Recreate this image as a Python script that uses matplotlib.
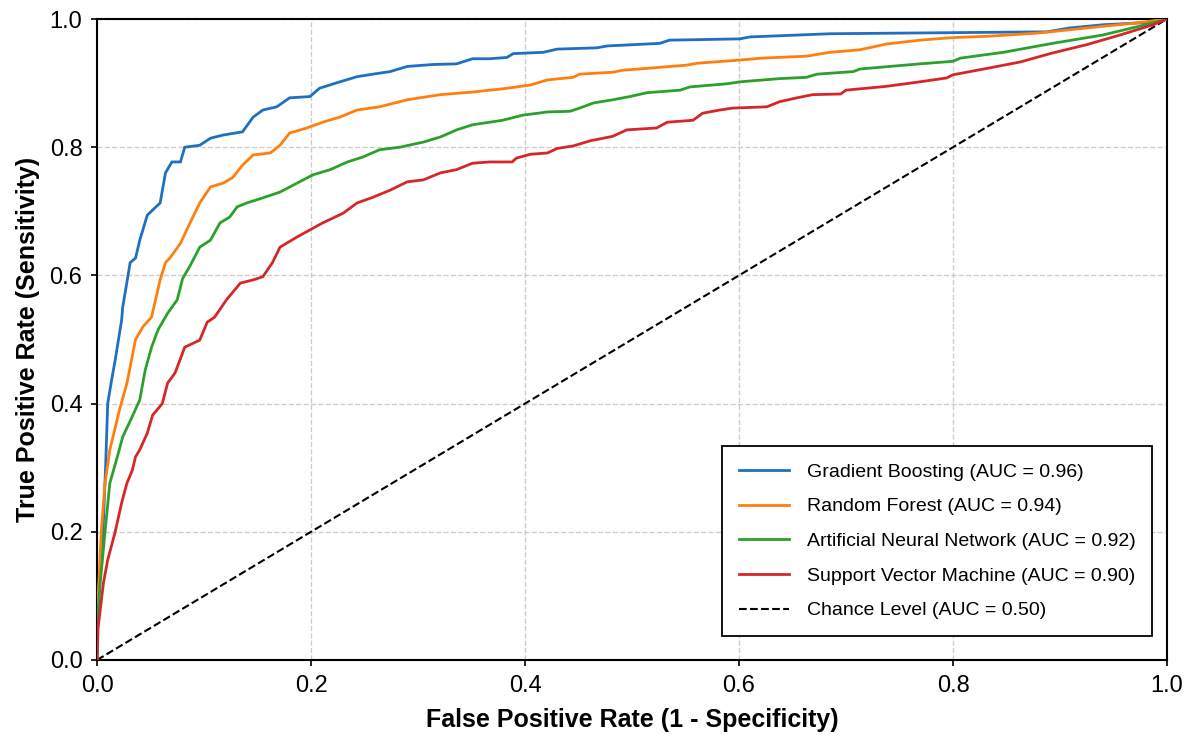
import matplotlib
matplotlib.use("Agg")
import matplotlib.pyplot as plt

plt.rcParams['font.family'] = ['Liberation Sans', 'DejaVu Sans']

labels = ["Gradient Boosting (AUC = 0.96)",
          "Random Forest (AUC = 0.94)",
          "Artificial Neural Network (AUC = 0.92)",
          "Support Vector Machine (AUC = 0.90)"]
colors = ["#1f6fc2", "#ff7f0e", "#2ca02c", "#d62728"]
chance_label = "Chance Level (AUC = 0.50)"

gb_fpr = [0.0, 0.0, 0.002, 0.004, 0.0056, 0.008, 0.010, 0.014, 0.017, 0.023, 0.024, 0.029, 0.031, 0.036,
          0.040, 0.047, 0.052, 0.059, 0.064, 0.070, 0.078, 0.082, 0.096, 0.106, 0.118, 0.136,
          0.146, 0.155, 0.168, 0.180, 0.199, 0.208, 0.227, 0.243, 0.258, 0.274, 0.290, 0.314,
          0.336, 0.351, 0.367, 0.383, 0.389, 0.417, 0.430, 0.467, 0.477, 0.526, 0.535, 0.601,
          0.610, 0.685, 0.888, 0.909, 0.940, 0.987, 1.0]
gb_tpr = [0.0, 0.08, 0.12, 0.16, 0.20, 0.30, 0.40, 0.44, 0.468, 0.53, 0.55, 0.60, 0.62, 0.627,
          0.655, 0.694, 0.702, 0.713, 0.760, 0.777, 0.777, 0.800, 0.803, 0.814, 0.819, 0.824,
          0.847, 0.858, 0.863, 0.877, 0.879, 0.892, 0.902, 0.910, 0.914, 0.918, 0.926, 0.929,
          0.930, 0.938, 0.938, 0.940, 0.946, 0.948, 0.953, 0.955, 0.958, 0.962, 0.967, 0.969,
          0.972, 0.977, 0.980, 0.986, 0.991, 0.995, 1.0]

rf_fpr = [0.0, 0.0, 0.002, 0.004, 0.0075, 0.012, 0.021, 0.028, 0.036, 0.043, 0.051, 0.059, 0.064,
          0.068, 0.078, 0.087, 0.096, 0.106, 0.118, 0.127, 0.136, 0.146, 0.162, 0.171, 0.180,
          0.196, 0.211, 0.227, 0.243, 0.264, 0.290, 0.321, 0.351, 0.367, 0.379, 0.405, 0.421,
          0.445, 0.451, 0.482, 0.491, 0.514, 0.551, 0.561, 0.601, 0.622, 0.663, 0.685, 0.713,
          0.738, 0.769, 0.800, 0.832, 0.879, 0.925, 0.972, 1.0]
rf_tpr = [0.0, 0.06, 0.13, 0.20, 0.276, 0.328, 0.390, 0.432, 0.500, 0.520, 0.535, 0.593, 0.620,
          0.627, 0.650, 0.682, 0.713, 0.738, 0.744, 0.753, 0.772, 0.788, 0.791, 0.803, 0.822,
          0.830, 0.839, 0.847, 0.858, 0.863, 0.874, 0.882, 0.886, 0.889, 0.891, 0.897, 0.905,
          0.909, 0.914, 0.917, 0.920, 0.923, 0.928, 0.931, 0.936, 0.939, 0.942, 0.948, 0.952,
          0.961, 0.967, 0.971, 0.973, 0.978, 0.986, 0.994, 1.0]

ann_fpr = [0.0, 0.0, 0.003, 0.0075, 0.012, 0.019, 0.024, 0.033, 0.040, 0.045, 0.051, 0.057, 0.066,
           0.075, 0.080, 0.087, 0.096, 0.106, 0.115, 0.124, 0.131, 0.140, 0.155, 0.171, 0.187,
           0.202, 0.218, 0.234, 0.249, 0.264, 0.283, 0.305, 0.321, 0.336, 0.351, 0.367, 0.379,
           0.398, 0.421, 0.442, 0.451, 0.464, 0.482, 0.498, 0.514, 0.545, 0.554, 0.589, 0.601,
           0.638, 0.663, 0.673, 0.707, 0.713, 0.769, 0.800, 0.807, 0.847, 0.893, 0.940, 0.987, 1.0]
ann_tpr = [0.0, 0.05, 0.12, 0.200, 0.276, 0.317, 0.348, 0.380, 0.406, 0.452, 0.488, 0.515, 0.541,
           0.562, 0.595, 0.615, 0.644, 0.655, 0.682, 0.691, 0.707, 0.713, 0.721, 0.730, 0.744,
           0.757, 0.765, 0.777, 0.785, 0.796, 0.800, 0.808, 0.816, 0.827, 0.835, 0.839, 0.842,
           0.850, 0.855, 0.856, 0.861, 0.869, 0.874, 0.879, 0.885, 0.889, 0.894, 0.899, 0.902,
           0.907, 0.909, 0.914, 0.918, 0.922, 0.930, 0.934, 0.939, 0.948, 0.962, 0.975, 0.994, 1.0]

svm_fpr = [0.0, 0.001, 0.006, 0.010, 0.017, 0.023, 0.028, 0.033, 0.036, 0.040, 0.047, 0.052, 0.061,
           0.066, 0.073, 0.082, 0.096, 0.103, 0.110, 0.121, 0.134, 0.146, 0.155, 0.164, 0.171,
           0.187, 0.199, 0.211, 0.230, 0.243, 0.258, 0.274, 0.290, 0.305, 0.321, 0.336, 0.351,
           0.367, 0.388, 0.392, 0.405, 0.421, 0.430, 0.445, 0.461, 0.482, 0.495, 0.523, 0.533,
           0.557, 0.566, 0.582, 0.594, 0.626, 0.638, 0.654, 0.669, 0.695, 0.700, 0.738, 0.769,
           0.794, 0.800, 0.832, 0.863, 0.893, 0.925, 0.956, 0.987, 1.0]
svm_tpr = [0.0, 0.05, 0.12, 0.156, 0.200, 0.245, 0.276, 0.296, 0.317, 0.328, 0.354, 0.382, 0.400,
           0.432, 0.448, 0.488, 0.499, 0.527, 0.535, 0.562, 0.588, 0.593, 0.598, 0.620, 0.644,
           0.660, 0.671, 0.682, 0.697, 0.713, 0.722, 0.733, 0.746, 0.749, 0.760, 0.765, 0.775,
           0.777, 0.777, 0.783, 0.789, 0.791, 0.798, 0.802, 0.810, 0.817, 0.827, 0.830, 0.839,
           0.842, 0.853, 0.858, 0.861, 0.863, 0.871, 0.877, 0.882, 0.883, 0.889, 0.895, 0.902,
           0.908, 0.913, 0.923, 0.933, 0.947, 0.960, 0.975, 0.991, 1.0]

chance = [0.0, 1.0]
ticks = [0.0, 0.2, 0.4, 0.6, 0.8, 1.0]

fig = plt.figure(figsize=(11.91, 7.35), dpi=100)
ax = fig.add_axes([97/1191, 75/735, 1070/1191, 641/735])

series = [(gb_fpr, gb_tpr), (rf_fpr, rf_tpr), (ann_fpr, ann_tpr), (svm_fpr, svm_tpr)]
for (f, t), c, lab in zip(series, colors, labels):
    ax.plot(f, t, color=c, lw=2.0, label=lab, zorder=3, solid_joinstyle='miter')
ax.plot(chance, chance, linestyle='--', color='black', lw=1.5, label=chance_label, zorder=2)

ax.set_xlim(0, 1)
ax.set_ylim(0, 1)
ax.set_xticks(ticks)
ax.set_yticks(ticks)
ax.set_xticklabels([f"{t:.1f}" for t in ticks])
ax.set_yticklabels([f"{t:.1f}" for t in ticks])
ax.tick_params(labelsize=17, length=4.5, width=1.2, direction='out', pad=6)
ax.grid(True, linestyle='--', color='#c8c8c8', lw=1.0, alpha=0.9)
ax.set_axisbelow(True)
for s in ax.spines.values():
    s.set_linewidth(1.5)
    s.set_color('black')

ax.set_xlabel("False Positive Rate (1 - Specificity)", fontsize=18, fontweight='bold', labelpad=8)
ax.set_ylabel("True Positive Rate (Sensitivity)", fontsize=18, fontweight='bold', labelpad=7)

leg = ax.legend(loc='lower right', bbox_to_anchor=(1 - 15/1070, 24/641), fontsize=14,
                frameon=True, fancybox=False, edgecolor='black', framealpha=1,
                handlelength=2.6, handletextpad=0.9, labelspacing=0.88, borderpad=0.85,
                borderaxespad=0)
leg.get_frame().set_linewidth(1.3)

fig.savefig("out.png", dpi=100)
